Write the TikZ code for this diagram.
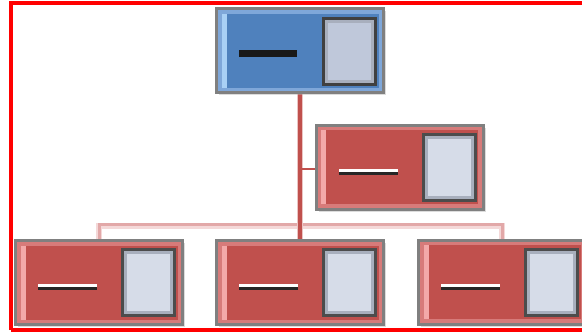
\documentclass[tikz,border=0pt]{standalone}
\usetikzlibrary{positioning, calc, shadows, backgrounds}

\definecolor{boxred}{HTML}{C0504D}
\definecolor{rimred}{HTML}{D77B7A}
\definecolor{hilired}{HTML}{F3A9A9}
\definecolor{boxblue}{HTML}{4F81BD}
\definecolor{rimblue}{HTML}{7FA7D9}
\definecolor{hiliblue}{HTML}{A9D0F5}
\definecolor{photofill}{HTML}{D6DCE8}
\definecolor{photofillb}{HTML}{BFC8DA}
\definecolor{photorim}{HTML}{A8AFBD}
\definecolor{linkedge}{HTML}{EBC4C3}
\definecolor{busred}{HTML}{E2A8A8}
\definecolor{buslight}{HTML}{F4D8D8}

\begin{document}
\begin{tikzpicture}[
    x=1pt, y=-1pt,
    % Org chart styles
    chartbox/.style={rectangle, draw=black!50, line width=3pt, inner sep=0pt, outer sep=0pt,
        minimum width=167pt, minimum height=84pt,
        drop shadow={shadow xshift=2.5pt, shadow yshift=-2.5pt, fill=black!30, opacity=0.45}},
    redbox/.style={chartbox, fill=boxred},
    bluebox/.style={chartbox, fill=boxblue},
    photo/.style={rectangle, draw=black!70, line width=3pt, inner sep=0pt, outer sep=0pt,
        minimum width=52pt, minimum height=66pt, anchor=east},
    rim/.style={draw=#1, line width=3.5pt},
    trunk/.style={draw=boxred, line width=3.5pt, preaction={draw=linkedge, line width=6.5pt}},
    branch/.style={draw=boxred, line width=2pt},
    buslink/.style={draw=buslight, line width=6pt,
        postaction={draw=busred, line width=3pt, transform canvas={yshift=1.5pt}}},
    frame/.style={draw=red, line width=3.5pt},
]
\useasboundingbox (0,0) rectangle (582,332);

% ============ Boxes ============
\node[bluebox] (boss) at (300,50.5) {};
\node[redbox] (assistant) at (399.5,167) {};
\node[redbox] (subleft) at (99,282.5) {};
\node[redbox] (submid) at (300,282.5) {};
\node[redbox] (subright) at (502,282) {};

% ============ Top box details ============
\draw[rim=rimblue] ($(boss.north west)+(3.25,3.25)$) rectangle ($(boss.south east)+(-3.25,-3.25)$);
\fill[hiliblue] ($(boss.north west)+(5,5)$) rectangle ($(boss.south west)+(10,-5)$);
\node[photo, fill=photofillb, draw=black!75] (boss-photo) at ($(boss.east)+(-8,1)$) {};
\draw[rim=photorim, line width=3pt] ($(boss-photo.north west)+(3,3)$) rectangle ($(boss-photo.south east)+(-3,-3)$);
\fill[black!90] ($(boss.west)+(22.5,-0.5)$) rectangle ++(58,7);

% ============ Red box details ============
\foreach \n in {assistant, subleft, submid, subright} {
    \draw[rim=rimred] ($(\n.north west)+(3.25,3.25)$) rectangle ($(\n.south east)+(-3.25,-3.25)$);
    \fill[hilired] ($(\n.north west)+(5,5)$) rectangle ($(\n.south west)+(10,-5)$);
    \node[photo, fill=photofill] (\n-photo) at ($(\n.east)+(-8,0)$) {};
    \draw[rim=photorim, line width=3pt] ($(\n-photo.north west)+(3,3)$) rectangle ($(\n-photo.south east)+(-3,-3)$);
    \fill[white] ($(\n.west)+(22.5,1.5)$) rectangle ++(59,3);
    \fill[black!85] ($(\n.west)+(22.5,4.5)$) rectangle ++(59,3);
}

% ============ Connectors ============
\coordinate (bus) at (300,226);
\begin{scope}[on background layer]
\draw[buslink] (subleft.north) -- (subleft.north |- bus) -- (subright.north |- bus) -- (subright.north);
\draw[trunk] (boss.south) -- (submid.north);
\draw[branch] (boss.south |- 0,169) -- (assistant.west |- 0,169);
\end{scope}

% ============ Frame ============
\draw[frame] (11,330) -- (11,3) -- (600,3);
\draw[frame] (11,330) -- (600,330);

\end{tikzpicture}
\end{document}
